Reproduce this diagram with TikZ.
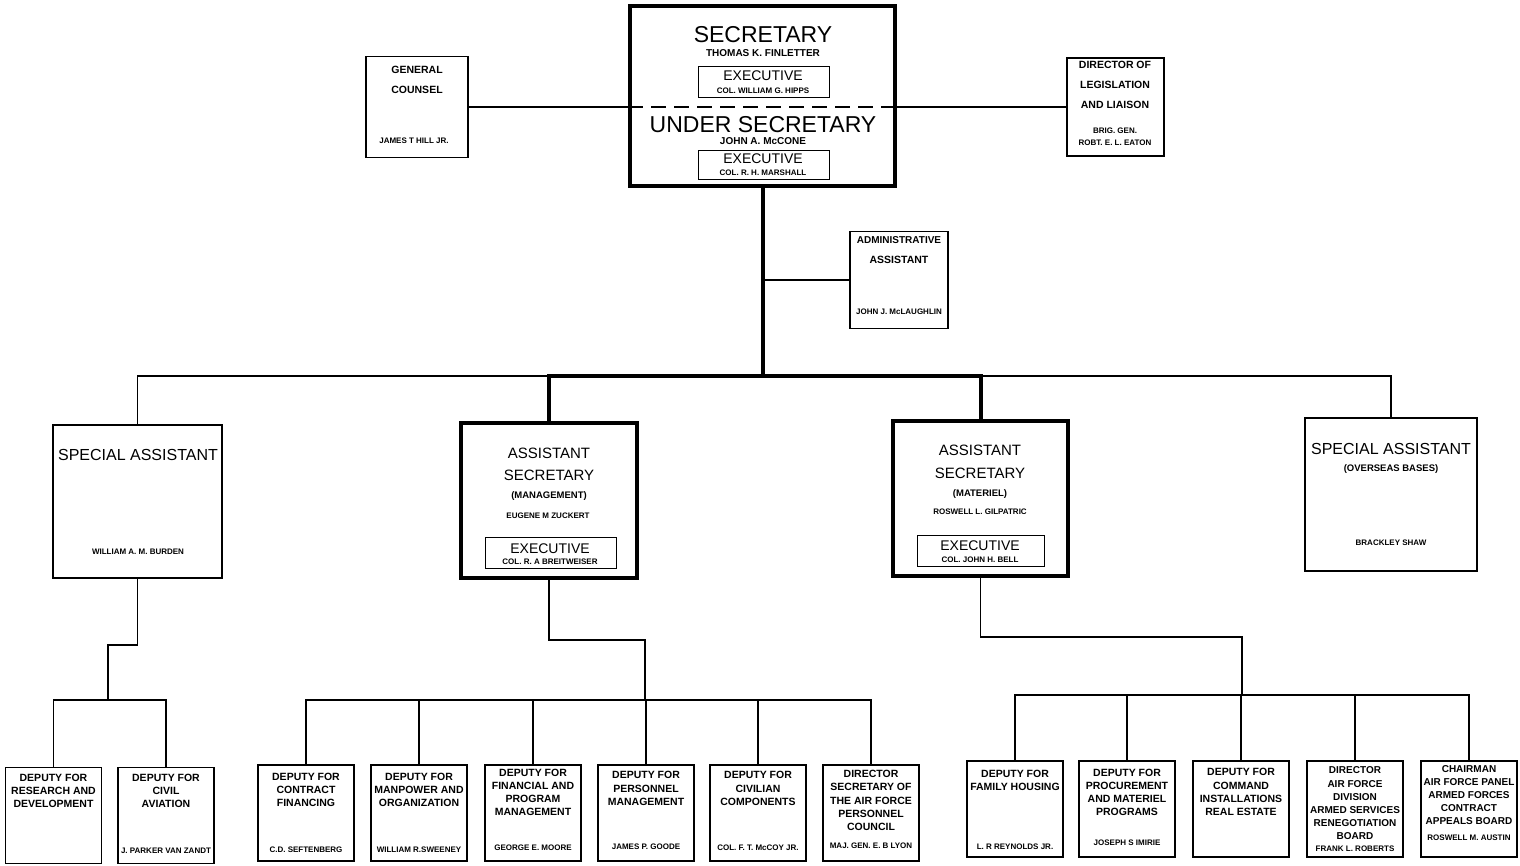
\documentclass[tikz,border=0pt]{standalone}
\usepackage{fontspec}
\setmainfont{Liberation Sans}
\usepackage{tikz}

\begin{document}
\begin{tikzpicture}[
    x=1pt, y=-1pt,
    office/.style={rectangle, draw, line width=1.3pt, inner sep=0pt},
    headoffice/.style={office, line width=4pt},
    execbox/.style={office, line width=0.9pt, minimum width=131pt, minimum height=31pt},
    deputybox/.style={office, minimum width=96pt, minimum height=96pt},
    bigtitle/.style={inner sep=0pt, font=\fontsize{23}{26}\selectfont},
    midtitle/.style={inner sep=0pt, font=\fontsize{15}{18}\selectfont},
    exectitle/.style={inner sep=0pt, font=\fontsize{14}{16}\selectfont},
    stafftitle/.style={inner sep=0pt, font=\bfseries\fontsize{10.5}{12}\selectfont},
    deputytitle/.style={inner sep=0pt, align=center, font=\bfseries\fontsize{10.5}{13.2}\selectfont},
    widetitle/.style={deputytitle, font=\bfseries\fontsize{10}{13.2}\selectfont},
    subtitle/.style={inner sep=0pt, font=\bfseries\fontsize{9.5}{11}\selectfont},
    person/.style={inner sep=0pt, font=\bfseries\fontsize{8}{9}\selectfont},
    link/.style={line width=1.3pt},
    mainlink/.style={line width=4pt}
]
\useasboundingbox (0,0) rectangle (1520,865);

% Secretary and Under Secretary
\node[headoffice, minimum width=265pt, minimum height=180pt] (sec) at (762.5,96) {};
\node[bigtitle] (sect) at (763,35) {SECRETARY};
\node[person, font=\bfseries\fontsize{10}{11}\selectfont] (secn) at (763,53) {THOMAS K. FINLETTER};
\node[execbox] (ex1) at (763.5,82) {};
\node[exectitle] (ex1t) at (763,76) {EXECUTIVE};
\node[person] (ex1n) at (763,91) {COL. WILLIAM G. HIPPS};
\node[bigtitle] (usect) at (763,125) {UNDER SECRETARY};
\node[person, font=\bfseries\fontsize{10}{11}\selectfont] (usecn) at (763,141) {JOHN A. McCONE};
\node[execbox, minimum height=29pt] (ex2) at (763.5,165) {};
\node[exectitle] (ex2t) at (763,159) {EXECUTIVE};
\node[person] (ex2n) at (763,173) {COL. R. H. MARSHALL};

% Staff offices
\node[office, minimum width=102pt, minimum height=101pt] (gc) at (417,107) {};
\node[stafftitle] (gct1) at (417,70) {GENERAL};
\node[stafftitle] (gct2) at (417,90) {COUNSEL};
\node[person] (gcn) at (414,141) {JAMES T HILL JR.};
\node[office, minimum width=97pt, minimum height=98pt] (dir) at (1115.5,107) {};
\node[stafftitle] (dirt1) at (1115,65) {DIRECTOR OF};
\node[stafftitle] (dirt2) at (1115,85) {LEGISLATION};
\node[stafftitle] (dirt3) at (1115,105) {AND LIAISON};
\node[person] (dirn1) at (1115,131) {BRIG. GEN.};
\node[person] (dirn2) at (1115,143) {ROBT. E. L. EATON};
\node[office, minimum width=98pt, minimum height=97pt] (adm) at (899,280) {};
\node[stafftitle, font=\bfseries\fontsize{10}{12}\selectfont] (admt1) at (899,240) {ADMINISTRATIVE};
\node[stafftitle] (admt2) at (899,260) {ASSISTANT};
\node[person] (admn) at (899,312) {JOHN J. McLAUGHLIN};

% Assistant secretaries and special assistants
\node[office, minimum width=169pt, minimum height=153pt] (spl) at (137.5,501.5) {};
\node[midtitle, font=\fontsize{16}{18}\selectfont] (splt) at (138,455) {SPECIAL ASSISTANT};
\node[person] (spln) at (138,552) {WILLIAM A. M. BURDEN};
\node[headoffice, minimum width=176pt, minimum height=155pt] (asm) at (549,500.5) {};
\node[midtitle] (asmt1) at (549,453) {ASSISTANT};
\node[midtitle] (asmt2) at (549,475) {SECRETARY};
\node[subtitle] (asmt3) at (549,496) {(MANAGEMENT)};
\node[person] (asmn) at (548,516) {EUGENE M ZUCKERT};
\node[execbox] (ex3) at (551,552.5) {};
\node[exectitle] (ex3t) at (550,549) {EXECUTIVE};
\node[person] (ex3n) at (550,562) {COL. R. A BREITWEISER};
\node[headoffice, minimum width=175pt, minimum height=155pt] (amt) at (980.5,498.5) {};
\node[midtitle] (amtt1) at (980,450) {ASSISTANT};
\node[midtitle] (amtt2) at (980,473) {SECRETARY};
\node[subtitle] (amtt3) at (980,494) {(MATERIEL)};
\node[person] (amtn) at (980,512) {ROSWELL L. GILPATRIC};
\node[execbox, minimum width=127pt] (ex4) at (980.5,550.5) {};
\node[exectitle] (ex4t) at (980,546) {EXECUTIVE};
\node[person] (ex4n) at (980,560) {COL. JOHN H. BELL};
\node[office, minimum width=172pt, minimum height=153pt] (spr) at (1391,494.5) {};
\node[midtitle, font=\fontsize{16}{18}\selectfont] (sprt) at (1391,449) {SPECIAL ASSISTANT};
\node[subtitle] (sprt2) at (1391,469) {(OVERSEAS BASES)};
\node[person] (sprn) at (1391,543) {BRACKLEY SHAW};

% Deputies under the special assistant
\node[deputybox] (d1) at (53.5,815.5) {};
\node[deputytitle] (d1t) at (53.5,791) {DEPUTY FOR\\RESEARCH AND\\DEVELOPMENT};
\node[deputybox] (d2) at (166,815.5) {};
\node[deputytitle] (d2t) at (166,791) {DEPUTY FOR\\CIVIL\\AVIATION};
\node[person] (d2n) at (166,851) {J. PARKER VAN ZANDT};

% Deputies under management
\node[deputybox] (m1) at (306,813) {};
\node[deputytitle] (m1t) at (306,790) {DEPUTY FOR\\CONTRACT\\FINANCING};
\node[person] (m1n) at (306,850) {C.D. SEFTENBERG};
\node[deputybox] (m2) at (419,813) {};
\node[deputytitle] (m2t) at (419,790) {DEPUTY FOR\\MANPOWER AND\\ORGANIZATION};
\node[person] (m2n) at (419,850) {WILLIAM R.SWEENEY};
\node[deputybox] (m3) at (533,813) {};
\node[deputytitle] (m3t) at (533,792.5) {DEPUTY FOR\\FINANCIAL AND\\PROGRAM\\MANAGEMENT};
\node[person] (m3n) at (533,848) {GEORGE E. MOORE};
\node[deputybox] (m4) at (646,813) {};
\node[deputytitle] (m4t) at (646,788.5) {DEPUTY FOR\\PERSONNEL\\MANAGEMENT};
\node[person] (m4n) at (646,847) {JAMES P. GOODE};
\node[deputybox] (m5) at (758,813) {};
\node[deputytitle] (m5t) at (758,788.5) {DEPUTY FOR\\CIVILIAN\\COMPONENTS};
\node[person] (m5n) at (758,848) {COL. F. T. McCOY JR.};
\node[deputybox] (m6) at (871,813) {};
\node[deputytitle] (m6t) at (871,800.5) {DIRECTOR\\SECRETARY OF\\THE AIR FORCE\\PERSONNEL\\COUNCIL};
\node[person] (m6n) at (871,846) {MAJ. GEN. E. B LYON};

% Deputies under materiel
\node[deputybox] (t1) at (1015,809) {};
\node[deputytitle] (t1t) at (1015,780.5) {DEPUTY FOR\\FAMILY HOUSING};
\node[person] (t1n) at (1015,847) {L. R REYNOLDS JR.};
\node[deputybox] (t2) at (1127,809) {};
\node[deputytitle] (t2t) at (1127,792.5) {DEPUTY FOR\\PROCUREMENT\\AND MATERIEL\\PROGRAMS};
\node[person] (t2n) at (1127,843) {JOSEPH S IMIRIE};
\node[deputybox] (t3) at (1241,809) {};
\node[deputytitle] (t3t) at (1241,792) {DEPUTY FOR\\COMMAND\\INSTALLATIONS\\REAL ESTATE};
\node[deputybox] (t4) at (1355,809) {};
\node[widetitle] (t4t) at (1355,803.5) {DIRECTOR\\AIR FORCE\\DIVISION\\ARMED SERVICES\\RENEGOTIATION\\BOARD};
\node[person] (t4n) at (1355,849) {FRANK L. ROBERTS};
\node[deputybox] (t5) at (1469,809) {};
\node[widetitle] (t5t) at (1469,795) {CHAIRMAN\\AIR FORCE PANEL\\ARMED FORCES\\CONTRACT\\APPEALS BOARD};
\node[person] (t5n) at (1469,838) {ROSWELL M. AUSTIN};

% Junction points
\coordinate (hub) at (762.5,376);
\coordinate (ljog) at (108,645);
\coordinate (lbar) at (108,700);
\coordinate (mjog) at (645,640);
\coordinate (mbar) at (645,700);
\coordinate (tjog) at (1242,637);
\coordinate (tbar) at (1242,695);

% Top line and staff
\draw[link] (gc.east) -- (sec.west |- gc.east);
\draw[line width=2.5pt, dash pattern=on 15pt off 8pt] (sec.west |- gc.east) -- (sec.east |- gc.east);
\draw[link] (sec.east |- gc.east) -- (dir.west);
\draw[mainlink] (sec.south) -- (hub);
\draw[link] (adm.west) -- (adm.west -| hub);

% Second level
\draw[mainlink] (asm.north) |- (hub) -| (amt.north);
\draw[link] (spl.north) |- (asm.north |- hub);
\draw[link] (amt.north |- hub) -| (spr.north);

% Special assistant branch
\draw[link] (spl.south) |- (ljog) -- (lbar);
\draw[link] (d1.north) |- (lbar) -| (d2.north);

% Management branch
\draw[link] (asm.south) |- (mjog) -- (mbar);
\draw[link] (m1.north) |- (mbar) -| (m6.north);
\draw[link] (m2.north) -- (m2.north |- mbar);
\draw[link] (m3.north) -- (m3.north |- mbar);
\draw[link] (m4.north) -- (m4.north |- mbar);
\draw[link] (m5.north) -- (m5.north |- mbar);

% Materiel branch
\draw[link] (amt.south) |- (tjog) -- (tbar);
\draw[link] (t1.north) |- (tbar) -| (t5.north);
\draw[link] (t2.north) -- (t2.north |- tbar);
\draw[link] (t3.north) -- (t3.north |- tbar);
\draw[link] (t4.north) -- (t4.north |- tbar);

\end{tikzpicture}
\end{document}
